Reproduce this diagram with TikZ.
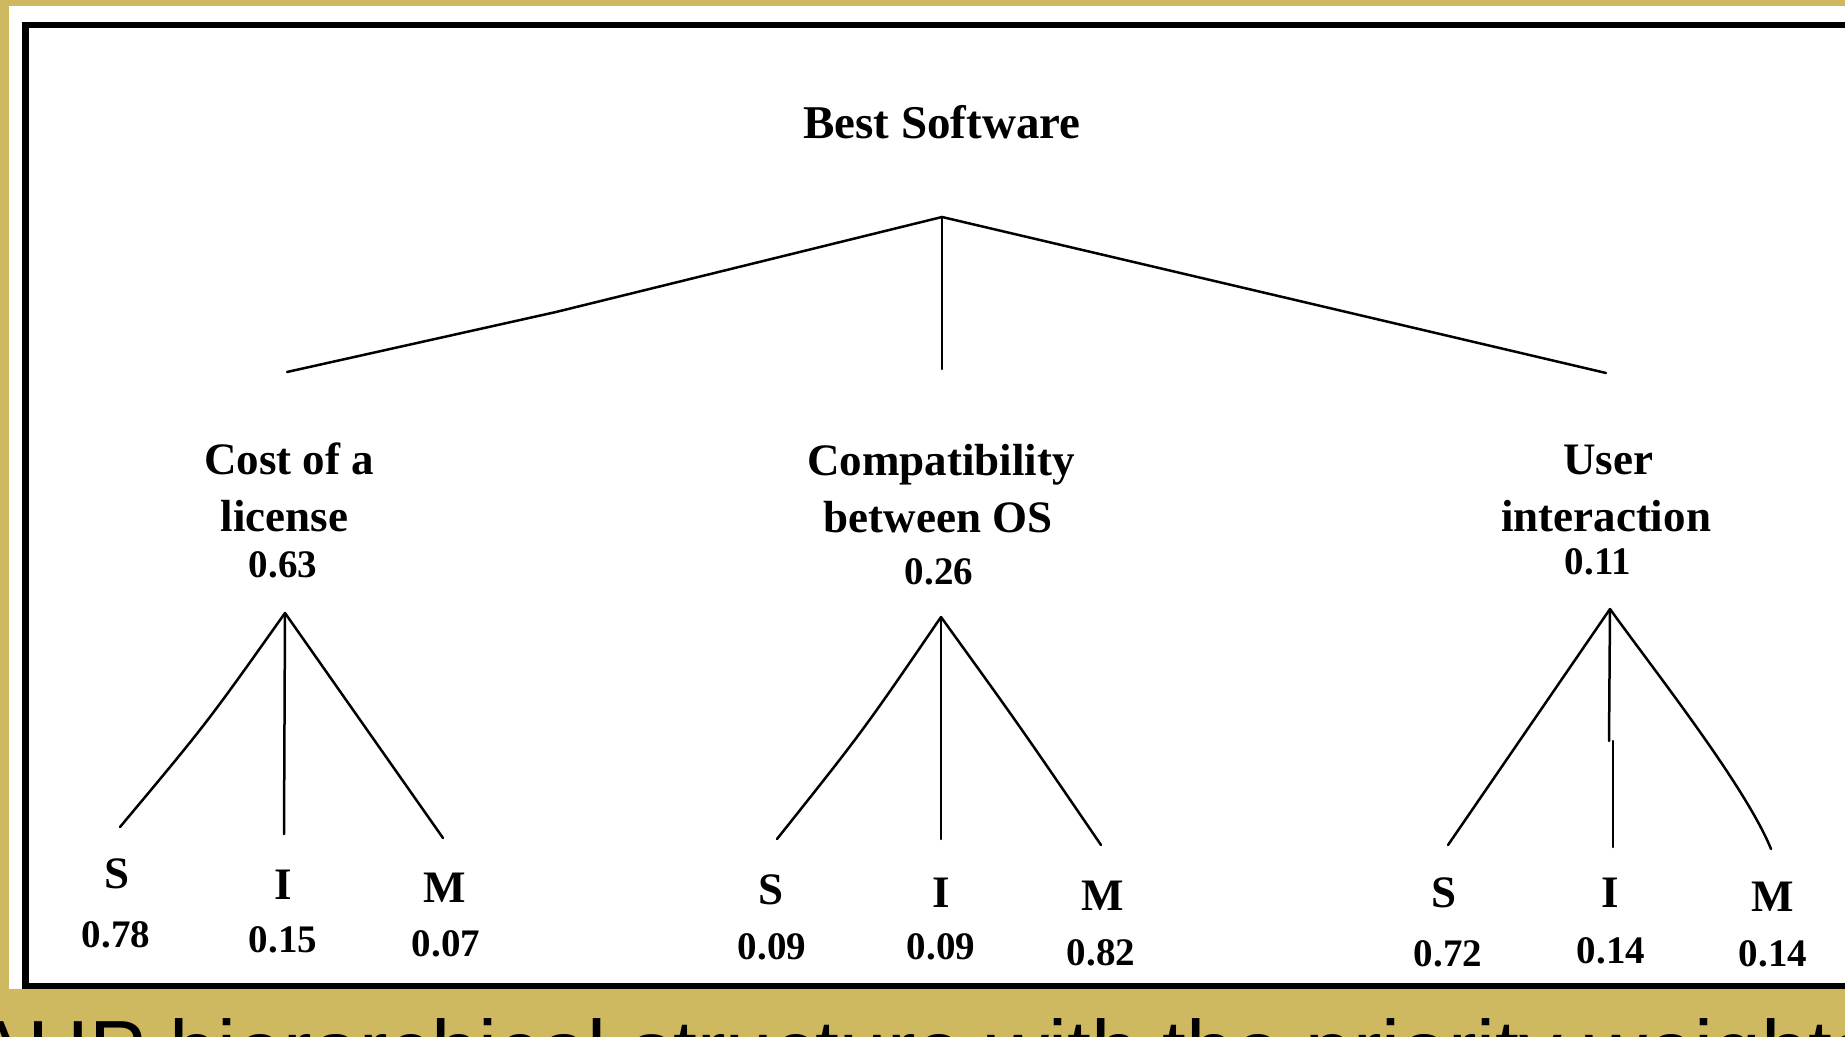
\documentclass[tikz,border=0pt]{standalone}
\usepackage{fontspec}
\setmainfont{Liberation Serif}
\newfontfamily\capfont{Liberation Sans}
\definecolor{gold}{RGB}{206,185,97}
\begin{document}
\begin{tikzpicture}[x=0.5pt,y=-0.5pt,
  title/.style={font=\fontsize{23.5}{23.5}\selectfont\bfseries, anchor=base, inner sep=0pt},
  lbl/.style={font=\fontsize{22.5}{22.5}\selectfont\bfseries, anchor=base, inner sep=0pt},
  num/.style={font=\fontsize{19.5}{19.5}\selectfont\bfseries, anchor=base, inner sep=0pt},
  edge/.style={line width=1.25pt, line cap=round}]
\useasboundingbox (0,0) rectangle (1845,1037);
\clip (0,0) rectangle (1845,1037);
\fill[gold] (0,0) rectangle (1845,1037);
\fill[white] (8.5,6) rectangle (1845,989);
\draw[line width=3.25pt] (25.25,25.25) rectangle (1900,986);

% root
\node[title] (root) at (942,139) {Best Software};
\coordinate (ra) at (942,217);
\coordinate (rl) at (287,372);
\coordinate (rk) at (556,312);
\coordinate (rm) at (942,369);
\coordinate (rr) at (1606,373);
\draw[edge] (rl) -- (rk) -- (ra) -- (rr);
\draw[edge] (ra) -- (rm);

% criteria
\node[lbl] (c1a) at (289,474) {Cost of a};
\node[lbl] (c1b) at (284.5,531) {license};
\node[num] (c1w) at (283,577) {0.63};
\node[lbl] (c2a) at (941,475) {Compatibility};
\node[lbl] (c2b) at (938,532) {between OS};
\node[num] (c2w) at (939,584) {0.26};
\node[lbl] (c3a) at (1608,474) {User};
\node[lbl] (c3b) at (1606,531) {interaction};
\node[num] (c3w) at (1598,574) {0.11};

% left subtree
\coordinate (a1) at (285,613);
\coordinate (a1s) at (120,827);
\coordinate (a1i) at (284,834);
\coordinate (a1m) at (443,838);
\draw[edge] (a1) .. controls (207,723) .. (a1s);
\draw[edge] (a1) -- (a1i);
\draw[edge] (a1) -- (a1m);
\node[lbl] (s1) at (117,888) {S};
\node[lbl] (i1) at (283,899) {I};
\node[lbl] (m1) at (445,902) {M};
\node[num] (s1w) at (116,947) {0.78};
\node[num] (i1w) at (283,952) {0.15};
\node[num] (m1w) at (446,956) {0.07};

% middle subtree
\coordinate (a2) at (941,617);
\coordinate (a2s) at (777,839);
\coordinate (a2i) at (941,839);
\coordinate (a2m) at (1101,845);
\draw[edge] (a2) .. controls (863,731) .. (a2s);
\draw[edge] (a2) -- (a2i);
\draw[edge] (a2) .. controls (1019,725) .. (a2m);
\node[lbl] (s2) at (771,904) {S};
\node[lbl] (i2) at (941,907) {I};
\node[lbl] (m2) at (1103,910) {M};
\node[num] (s2w) at (772,959) {0.09};
\node[num] (i2w) at (941,959) {0.09};
\node[num] (m2w) at (1101,965) {0.82};

% right subtree
\coordinate (a3) at (1610,609);
\coordinate (a3s) at (1448,845);
\coordinate (a3j) at (1609,741);
\coordinate (a3k) at (1613,741);
\coordinate (a3i) at (1613,847);
\coordinate (a3m) at (1771,849);
\draw[edge] (a3) -- (a3s);
\draw[edge] (a3) -- (a3j);
\draw[edge] (a3k) -- (a3i);
\draw[edge] (a3) .. controls (1650,665) and (1745,785) .. (a3m);
\node[lbl] (s3) at (1444,907) {S};
\node[lbl] (i3) at (1610,907) {I};
\node[lbl] (m3) at (1773,911) {M};
\node[num] (s3w) at (1448,966) {0.72};
\node[num] (i3w) at (1611,963) {0.14};
\node[num] (m3w) at (1773,966) {0.14};

% caption
\node[anchor=base west, inner sep=0pt, font=\capfont\fontsize{42.75}{42.75}\selectfont] (cap) at (-30,1080) {AHP hierarchical structure with the priority weights};
\end{tikzpicture}
\end{document}
